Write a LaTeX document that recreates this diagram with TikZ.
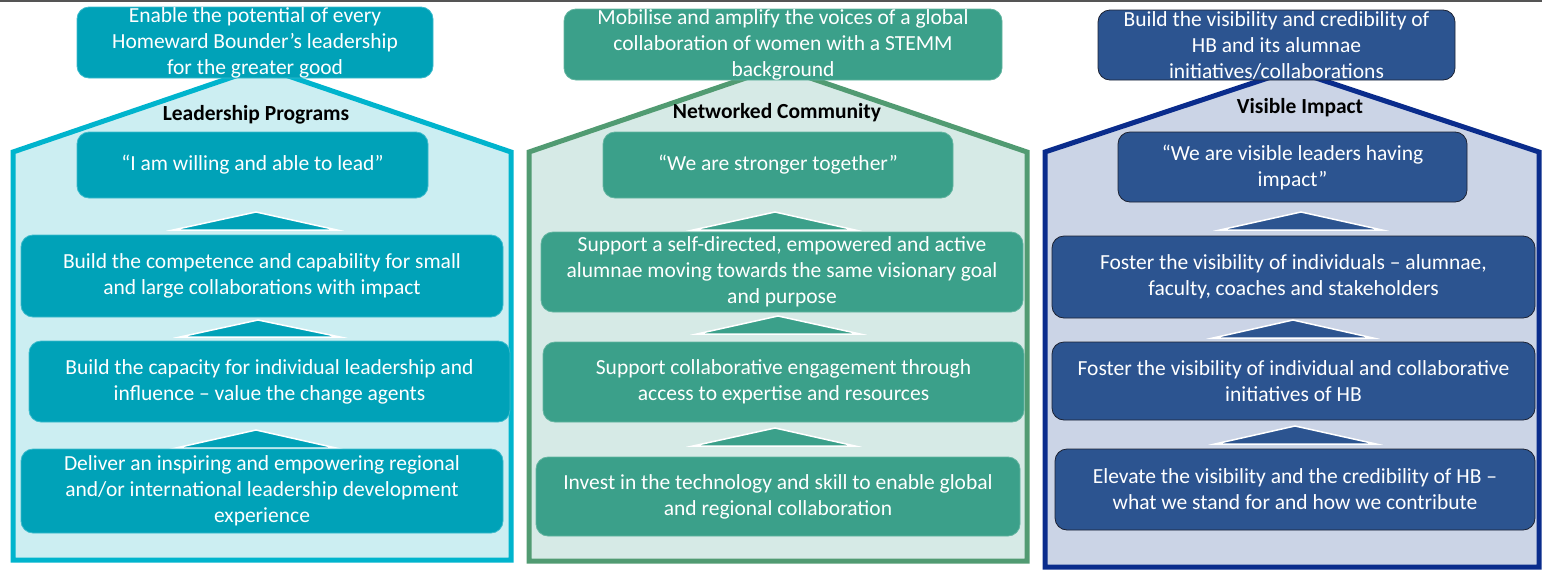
\documentclass[tikz,border=0pt]{standalone}
\usepackage{fontspec}
\setmainfont{Carlito}
\definecolor{cyanline}{HTML}{00B4CD}
\definecolor{cyanfill}{HTML}{CCEEF2}
\definecolor{cyanbox}{HTML}{00A2B8}
\definecolor{cyanedge}{HTML}{3DBBCC}
\definecolor{greenline}{HTML}{519B72}
\definecolor{greenfill}{HTML}{D6EAE6}
\definecolor{greenbox}{HTML}{3BA08A}
\definecolor{greenedge}{HTML}{62B5A0}
\definecolor{navyline}{HTML}{0A2C8C}
\definecolor{navyfill}{HTML}{CBD4E6}
\definecolor{navybox}{HTML}{2C5490}
\definecolor{navyedge}{HTML}{1C2233}
\definecolor{topline}{HTML}{555555}
\tikzset{
  box/.style={rounded corners=12pt, align=center, text=white, inner sep=0pt, line width=0.8pt,
    font=\fontsize{21.5}{26}\selectfont},
  cbox/.style={box, fill=cyanbox, draw=cyanedge},
  gbox/.style={box, fill=greenbox, draw=greenedge},
  nbox/.style={box, fill=navybox, draw=navyedge},
  house/.style={line width=5pt, line join=miter},
  tri/.style={draw=white, line width=1.5pt, line join=miter},
  housetitle/.style={font=\fontsize{21.5}{24}\selectfont\bfseries, text=black, inner sep=0pt},
}
\begin{document}
\begin{tikzpicture}[x=1pt,y=-1pt]
\useasboundingbox (0,0) rectangle (1542,571);
\draw[topline, line width=2pt] (0,1) -- (1542,1);
% houses
\draw[house, draw=cyanline, fill=cyanfill] (13,560) -- (13,152) -- (262,67) -- (511,152) -- (511,560) -- cycle;
\draw[house, draw=greenline, fill=greenfill] (529,561) -- (529,152) -- (778,67) -- (1027,152) -- (1027,561) -- cycle;
\draw[house, draw=navyline, fill=navyfill] (1045,567) -- (1045,152) -- (1292,70) -- (1539,152) -- (1539,567) -- cycle;
% triangles
\filldraw[tri, fill=cyanbox] (173,230) -- (256,212) -- (337,230) -- cycle;
\filldraw[tri, fill=cyanbox] (180,337) -- (258,320) -- (340,337) -- cycle;
\filldraw[tri, fill=cyanbox] (176,448) -- (256,430) -- (336,448) -- cycle;
\filldraw[tri, fill=greenbox] (693,230) -- (775,212) -- (855,230) -- cycle;
\filldraw[tri, fill=greenbox] (697,334) -- (778,316) -- (860,334) -- cycle;
\filldraw[tri, fill=greenbox] (693,446) -- (775,428) -- (855,446) -- cycle;
\filldraw[tri, fill=navybox] (1220,230) -- (1301,212) -- (1382,230) -- cycle;
\filldraw[tri, fill=navybox] (1213,338) -- (1293,320) -- (1373,338) -- cycle;
\filldraw[tri, fill=navybox] (1215,444) -- (1295,426) -- (1376,444) -- cycle;
% house 1
\node[cbox, minimum width=356pt, minimum height=71pt] (top1) at (255,42.5) {Enable the potential of every\\Homeward Bounder’s leadership\\for the greater good};
\node[housetitle] (t1) at (256,115) {Leadership Programs};
\node[cbox, minimum width=351pt, minimum height=66pt] (q1) at (252.5,165) {“I am willing and able to lead”};
\node[cbox, minimum width=482pt, minimum height=82pt] (a1) at (262,276) {Build  the competence and capability for small\\and large collaborations with impact};
\node[cbox, minimum width=481pt, minimum height=81pt] (b1) at (269.5,381.5) {Build the capacity for individual leadership and\\influence – value the change agents};
\node[cbox, minimum width=482pt, minimum height=84pt] (c1) at (262,491) {Deliver an inspiring and empowering  regional\\and/or international leadership development\\experience};
% house 2
\node[gbox, minimum width=438pt, minimum height=71pt] (top2) at (783,44.5) {Mobilise and amplify the voices of a global\\collaboration of women with a STEMM\\background};
\node[housetitle] (t2) at (777,113) {Networked Community};
\node[gbox, minimum width=350pt, minimum height=66pt] (q2) at (778,165) {“We are stronger together”};
\node[gbox, minimum width=482pt, minimum height=80pt] (a2) at (782,272) {Support a self-directed, empowered and active\\alumnae moving towards the same visionary goal\\and purpose};
\node[gbox, minimum width=481pt, minimum height=80pt] (b2) at (783.5,382) {Support collaborative engagement through\\access to expertise and resources};
\node[gbox, minimum width=484pt, minimum height=79pt] (c2) at (778,496.5) {Invest in the technology and skill to enable global\\and regional collaboration};
% house 3
\node[nbox, minimum width=357pt, minimum height=70pt] (top3) at (1276.5,45) {Build the visibility and credibility of\\HB and its alumnae\\initiatives/collaborations};
\node[housetitle] (t3) at (1300,108) {Visible Impact};
\node[nbox, minimum width=349pt, minimum height=70pt] (q3) at (1292.5,167) {“We are visible leaders having\\impact”};
\node[nbox, minimum width=483pt, minimum height=82pt] (a3) at (1293.5,277) {Foster the visibility of individuals – alumnae,\\faculty, coaches and stakeholders};
\node[nbox, minimum width=483pt, minimum height=78pt] (b3) at (1293.5,381) {Foster the visibility of individual and collaborative\\initiatives of HB};
\node[nbox, minimum width=480pt, minimum height=81pt] (c3) at (1295,489.5) {Elevate the visibility and the credibility of HB –\\what we stand for and how we contribute};
\end{tikzpicture}
\end{document}
